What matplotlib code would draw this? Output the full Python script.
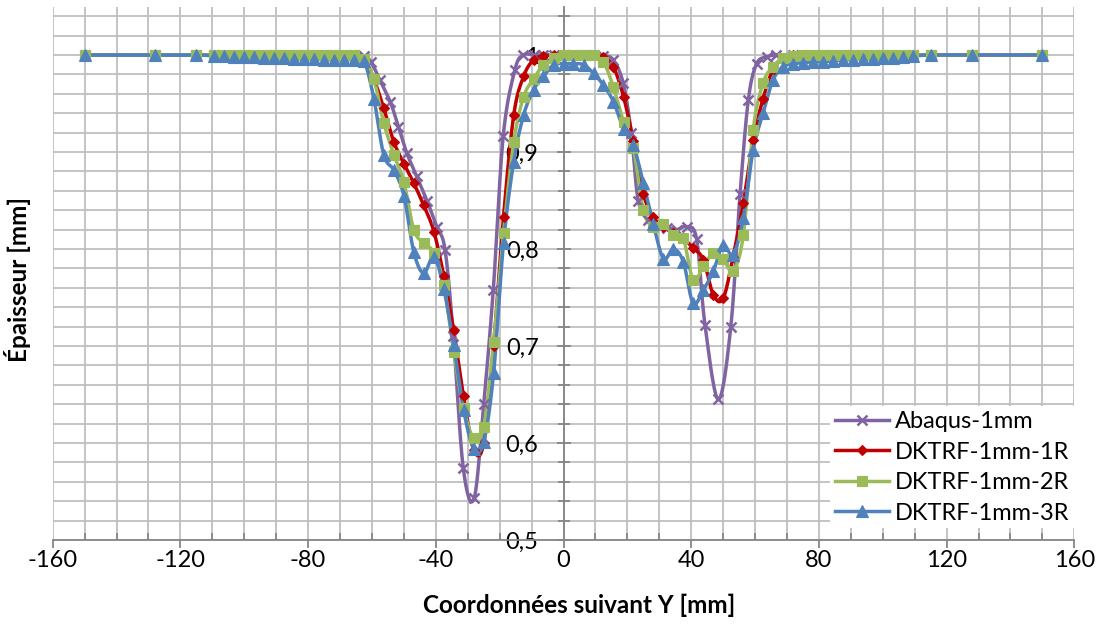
import numpy as np
import matplotlib
matplotlib.use("Agg")
import matplotlib.pyplot as plt
from matplotlib.ticker import MultipleLocator, FuncFormatter

plt.rcParams['font.family'] = ['Lato', 'DejaVu Sans']

# ---------------- data ----------------
x_dktrf = [-150, -128, -115, -109.4, -106.3, -103.1, -100, -96.9, -93.8, -90.6, -87.5, -84.4,
           -81.3, -78.1, -75, -71.9, -68.8, -65.6, -62.5, -59.4, -56.3, -53.1, -50, -46.9,
           -43.8, -40.6, -37.5, -34.4, -31.3, -28.1, -25, -21.9, -18.8, -15.6, -12.5, -9.4,
           -6.3, -3.1, 0, 3.1, 6.3, 9.4, 12.5, 15.6, 18.8, 21.9, 25, 28.1, 31.3, 34.4, 37.5,
           40.6, 43.8, 46.9, 50, 53.1, 56.3, 59.4, 62.5, 65.6, 68.8, 71.9, 75, 78.1, 81.3,
           84.4, 87.5, 90.6, 93.8, 96.9, 100, 103.1, 106.3, 109.4, 115, 128, 150]

y_1r = [1.0, 1.0, 1.0,
        1.0, 1.0, 1.0, 1.0, 1.0, 1.0, 1.0, 1.0, 1.0, 1.0, 1.0, 1.0, 1.0,
        1.0, 0.999, 0.995, 0.975, 0.945, 0.91, 0.888, 0.868, 0.845, 0.818, 0.772, 0.716,
        0.648, 0.593, 0.600, 0.70, 0.833, 0.938, 0.978, 0.995, 0.999, 1.0,
        1.0,
        1.0, 1.0, 1.0, 0.998, 0.988, 0.957, 0.911, 0.857, 0.833, 0.823, 0.816, 0.811,
        0.801, 0.789, 0.753, 0.749, 0.792, 0.847, 0.912, 0.955, 0.985, 0.997, 1.0,
        1.0, 1.0, 1.0, 1.0, 1.0, 1.0, 1.0, 1.0, 1.0, 1.0, 1.0, 1.0,
        1.0, 1.0, 1.0]

y_2r = [1.0, 1.0, 1.0,
        1.0, 1.0, 1.0, 1.0, 1.0, 1.0, 1.0, 1.0, 1.0, 1.0, 1.0, 1.0, 1.0,
        1.0, 1.0, 0.996, 0.975, 0.93, 0.897, 0.869, 0.82, 0.806, 0.796, 0.763, 0.694,
        0.636, 0.605, 0.617, 0.704, 0.816, 0.91, 0.957, 0.975, 0.99, 0.997,
        1.0,
        1.0, 1.0, 1.0, 0.993, 0.967, 0.931, 0.904, 0.84, 0.823, 0.826, 0.814, 0.811,
        0.768, 0.782, 0.796, 0.79, 0.777, 0.814, 0.923, 0.971, 0.988, 0.997, 0.999,
        1.0, 1.0, 1.0, 1.0, 1.0, 1.0, 1.0, 1.0, 1.0, 1.0, 1.0, 1.0,
        1.0, 1.0, 1.0]

y_3r = [1.0, 1.0, 1.0,
        0.999, 0.999, 0.998, 0.998, 0.998, 0.997, 0.997, 0.997, 0.996, 0.996, 0.996, 0.995, 0.995,
        0.995, 0.995, 0.994, 0.955, 0.897, 0.881, 0.855, 0.797, 0.775, 0.792, 0.759, 0.701,
        0.634, 0.594, 0.601, 0.672, 0.806, 0.89, 0.938, 0.964, 0.978, 0.99,
        0.991,
        0.991, 0.99, 0.981, 0.969, 0.952, 0.924, 0.907, 0.868, 0.826, 0.79, 0.80, 0.787,
        0.744, 0.758, 0.777, 0.804, 0.794, 0.832, 0.902, 0.94, 0.974, 0.988, 0.991,
        0.992, 0.993, 0.993, 0.994, 0.995, 0.995, 0.996, 0.996, 0.997, 0.997, 0.998, 0.999,
        1.0, 1.0, 1.0]

x_abaqus = [-150, -128, -115, -109.4, -100, -90.6, -81.3, -71.9, -65.6, -62.5, -60.3, -57.5,
            -54.3, -51.7, -49.1, -46.0, -42.8, -39.7, -37.1, -34.5, -31.4, -28.0, -25.0, -22.0,
            -18.9, -15.2, -12.6, -9.4, -6.3, -3.1, 0, 3.1, 6.3, 9.4, 12.5, 15.6, 18.7, 21.2,
            23.4, 26.5, 29.5, 32.5, 35.5, 38.6, 41.7, 44.3, 48.5, 52.4, 55.3, 57.9, 60.5, 63.6,
            66.7, 71.9, 81.3, 90.6, 100, 109.4, 115, 128, 150]
y_abaqus = [1.0, 1.0, 1.0, 1.0, 1.0, 1.0, 1.0, 1.0, 1.0, 0.999, 0.993, 0.974,
            0.952, 0.926, 0.899, 0.875, 0.850, 0.823, 0.799, 0.710, 0.574, 0.543, 0.64, 0.758,
            0.916, 0.985, 1.0, 1.0, 1.0, 1.0, 1.0, 1.0, 1.0, 1.0, 0.999, 0.995, 0.971, 0.92,
            0.85, 0.83, 0.825, 0.822, 0.82, 0.823, 0.81, 0.722, 0.645, 0.72, 0.857, 0.954, 0.991, 0.998,
            1.0, 1.0, 1.0, 1.0, 1.0, 1.0, 1.0, 1.0, 1.0]

labels = ["Abaqus-1mm", "DKTRF-1mm-1R", "DKTRF-1mm-2R", "DKTRF-1mm-3R"]
colors = ["#8064A2", "#C00000", "#9BBB59", "#4F81BD"]
markers = ["x", "D", "s", "^"]
msizes = [7, 5.5, 7, 8]


def smooth(x, y, n=16):
    p = np.column_stack([x, y]).astype(float)
    m = len(p)
    out = [p[0]]
    t = np.linspace(0, 1, n + 1)[1:][:, None]
    for i in range(m - 1):
        p0 = p[i - 1] if i > 0 else p[i]
        p1, p2 = p[i], p[i + 1]
        p3 = p[i + 2] if i + 2 < m else p[i + 1]
        c1 = p1 + (p2 - p0) / 6.0
        c2 = p2 - (p3 - p1) / 6.0
        seg = ((1 - t) ** 3) * p1 + 3 * ((1 - t) ** 2) * t * c1 + 3 * (1 - t) * t ** 2 * c2 + t ** 3 * p2
        out.extend(seg)
    out = np.array(out)
    return out[:, 0], out[:, 1]


fig = plt.figure(figsize=(11.03, 6.26), dpi=100)
ax = fig.add_axes([0.0478, 0.1374, 0.9262, 0.8522])

series = [(x_abaqus, y_abaqus), (x_dktrf, y_1r), (x_dktrf, y_2r), (x_dktrf, y_3r)]
for (xs, ys), lab, c, mk, ms in zip(series, labels, colors, markers, msizes):
    sx, sy = smooth(xs, ys)
    mew = 1.8 if mk == 'x' else 0.8
    ax.plot(sx, sy, color=c, lw=2.5, zorder=3, solid_capstyle='round')
    ax.plot(xs, ys, ls='none', marker=mk, color=c, ms=ms, mew=mew, zorder=4)
    ax.plot([], [], color=c, lw=2.5, marker=mk, ms=ms, mew=mew, label=lab)

ax.set_xlim(-160, 160)
ax.set_ylim(0.5, 1.05)

ax.xaxis.set_major_locator(MultipleLocator(40))
ax.xaxis.set_minor_locator(MultipleLocator(10))
ax.yaxis.set_major_locator(MultipleLocator(0.1))
ax.yaxis.set_minor_locator(MultipleLocator(0.02))

ax.grid(which='both', color='#BFBFBF', lw=1.3, zorder=0)
ax.set_axisbelow(True)

ax.spines['left'].set_position(('data', 0))
ax.spines['right'].set_visible(False)
ax.spines['top'].set_visible(False)
for s in ('left', 'bottom'):
    ax.spines[s].set_color('#868686')
    ax.spines[s].set_linewidth(1.3)
    ax.spines[s].set_zorder(2)

ax.tick_params(axis='x', which='major', direction='out', length=6, color='#868686', width=1.3,
               labelsize=17, pad=1)
ax.tick_params(axis='x', which='minor', direction='in', length=5, color='#868686', width=1.3)
ax.tick_params(axis='y', which='major', direction='inout', length=10, color='#868686', width=1.3,
               labelsize=17, pad=13)
ax.tick_params(axis='y', which='minor', direction='inout', length=8, color='#868686', width=1.3)

ax.xaxis.set_major_formatter(FuncFormatter(lambda v, p: f"{v:.0f}"))
ax.yaxis.set_major_formatter(FuncFormatter(
    lambda v, p: (f"{v:.1f}".replace('.', ',') if abs(v - 1) > 1e-6 else "1")))
for lbl in ax.get_yticklabels():
    lbl.set_zorder(5)

fig.text(0.525, 0.033, "Coordonnées suivant Y [mm]", fontsize=17.5, fontweight='bold',
         ha='center', va='center')
fig.text(0.016, 0.553, "Épaisseur [mm]", rotation=90, fontsize=17.5, fontweight='bold',
         ha='center', va='center')

leg = ax.legend(loc='lower right', bbox_to_anchor=(1.0, 0.022), fontsize=17, frameon=True,
                fancybox=False, edgecolor='none', framealpha=1.0, handlelength=2.3,
                handletextpad=0.25, borderpad=0.2, labelspacing=0.4, borderaxespad=0.0)
leg.set_zorder(6)

fig.savefig("out.png", dpi=100)
